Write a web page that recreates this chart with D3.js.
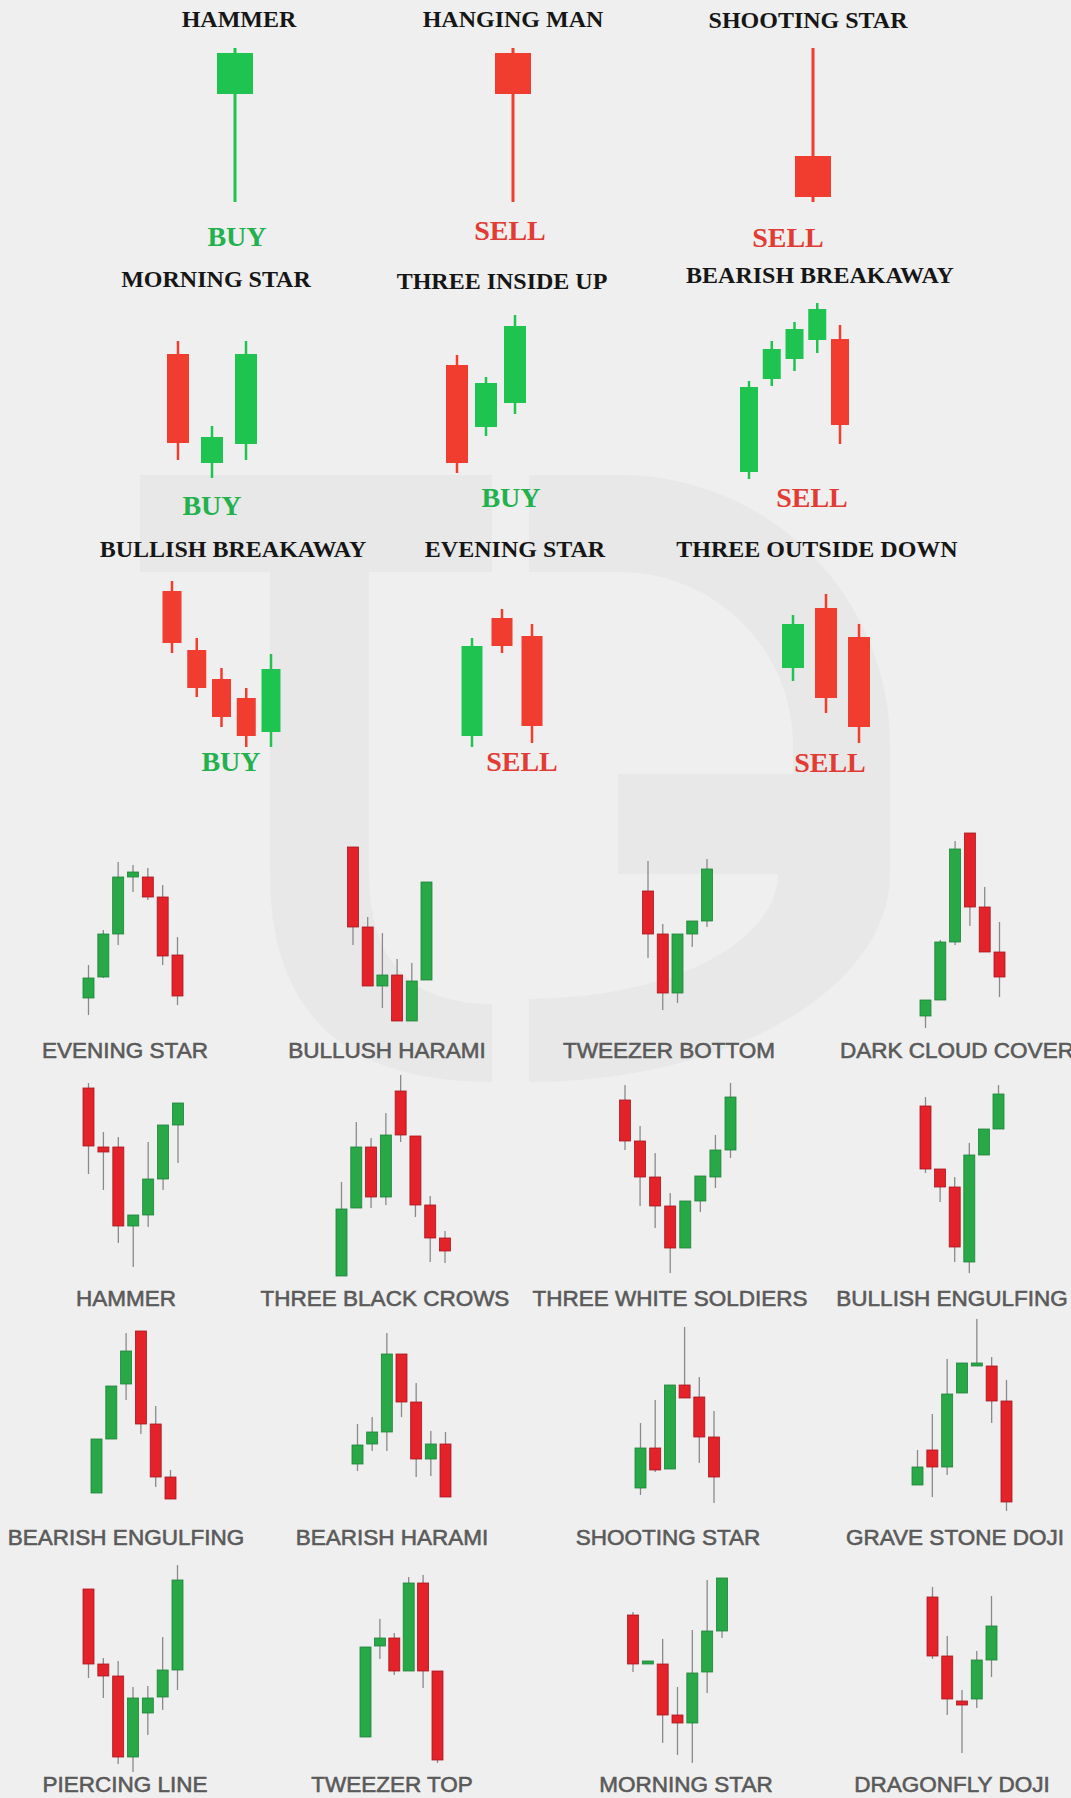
<!DOCTYPE html>
<html>
<head>
<meta charset="utf-8">
<script src="https://cdn.jsdelivr.net/npm/d3@7"></script>
<style>
  html, body { margin: 0; padding: 0; background: #efefef; }
  svg { display: block; }
</style>
</head>
<body>
<div id="chart"></div>
<script>
// every candle is [open, high, low, close]

// ---- big patterns with a signal ----
var signalRow1Names = ["HAMMER", "HANGING MAN", "SHOOTING STAR"];
var signalRow1Signals = ["BUY", "SELL", "SELL"];
var signalRow1Candles = [
  [[116, 162, 8, 157]],
  [[157, 162, 8, 116]],
  [[54, 162, 8, 13]]
];

var signalRow2Names = ["MORNING STAR", "THREE INSIDE UP", "BEARISH BREAKAWAY"];
var signalRow2Signals = ["BUY", "BUY", "SELL"];
var signalRow2Candles = [
  [[136, 149, 30, 47], [27, 64, 12, 53], [46, 149, 30, 136]],
  [[125, 135, 17, 27], [63, 113, 54, 107], [87, 175, 76, 164]],
  [[18, 109, 11, 103], [111, 149, 104, 141], [131, 168, 119, 161], [150, 187, 137, 181], [151, 165, 46, 65]]
];

var signalRow3Names = ["BULLISH BREAKAWAY", "EVENING STAR", "THREE OUTSIDE DOWN"];
var signalRow3Signals = ["BUY", "SELL", "SELL"];
var signalRow3Candles = [
  [[169, 179, 107, 117], [110, 122, 63, 72], [81, 92, 33, 43], [62, 72, 13, 24], [28, 106, 13, 91]],
  [[24, 122, 13, 114], [142, 151, 107, 114], [124, 136, 17, 34]],
  [[92, 145, 79, 136], [152, 166, 47, 62], [123, 136, 17, 33]]
];

// ---- small pattern grid ----
var gridRow1Names = ["EVENING STAR", "BULLUSH HARAMI", "TWEEZER BOTTOM", "DARK CLOUD COVER"];
var gridRow1Candles = [
  [[32, 65, 15, 52], [53, 100, 52, 96], [96, 168, 85, 153], [153, 165, 138, 158], [153, 162, 130, 133], [133, 145, 65, 74], [75, 93, 25, 34]],
  [[183, 183, 85, 103], [103, 113, 44, 44], [44, 97, 22, 55], [55, 71, 9, 9], [9, 67, 9, 49], [50, 148, 50, 148]],
  [[139, 169, 72, 96], [96, 106, 20, 37], [37, 96, 27, 96], [96, 109, 83, 109], [109, 171, 103, 161]],
  [[14, 30, 2, 30], [30, 90, 30, 88], [88, 189, 85, 181], [197, 197, 104, 123], [123, 143, 78, 78], [78, 108, 33, 53]]
];

var gridRow2Names = ["HAMMER", "THREE BLACK CROWS", "THREE WHITE SOLDIERS", "BULLISH ENGULFING"];
var gridRow2Candles = [
  [[192, 197, 106, 134], [133, 148, 90, 128], [133, 143, 37, 54], [54, 65, 13, 65], [65, 138, 53, 101], [101, 155, 90, 155], [155, 177, 117, 177]],
  [[4, 98, 4, 71], [72, 158, 72, 133], [133, 142, 72, 83], [83, 167, 75, 145], [189, 205, 138, 145], [144, 144, 63, 75], [75, 84, 18, 42], [42, 49, 17, 29]],
  [[180, 195, 130, 139], [139, 154, 74, 103], [103, 127, 52, 74], [74, 87, 7, 32], [32, 79, 32, 79], [79, 104, 68, 104], [103, 145, 92, 130], [130, 197, 122, 183]],
  [[174, 183, 107, 111], [111, 111, 78, 93], [93, 103, 18, 33], [18, 137, 7, 125], [125, 151, 125, 151], [151, 195, 151, 186]]
];

var gridRow3Names = ["BEARISH ENGULFING", "BEARISH HARAMI", "SHOOTING STAR", "GRAVE STONE DOJI"];
var gridRow3Candles = [
  [[22, 76, 22, 76], [76, 129, 76, 129], [131, 182, 115, 164], [184, 184, 81, 91], [91, 109, 28, 38], [38, 45, 16, 16]],
  [[51, 91, 44, 70], [71, 98, 64, 83], [83, 182, 64, 161], [161, 161, 98, 113], [113, 132, 38, 56], [56, 84, 39, 71], [71, 83, 18, 18]],
  [[27, 92, 20, 67], [67, 115, 43, 45], [46, 130, 46, 130], [130, 188, 117, 117], [118, 138, 52, 78], [78, 104, 12, 38]],
  [[30, 65, 30, 48], [65, 101, 18, 48], [48, 156, 40, 121], [122, 152, 122, 152], [149, 196, 149, 152], [149, 158, 92, 114], [114, 135, 4, 13]]
];

var gridRow4Names = ["PIERCING LINE", "TWEEZER TOP", "MORNING STAR", "DRAGONFLY DOJI"];
var gridRow4Candles = [
  [[186, 186, 97, 111], [111, 117, 77, 99], [99, 114, 11, 18], [18, 88, 3, 77], [62, 89, 40, 77], [78, 138, 65, 105], [105, 210, 85, 195]],
  [[38, 128, 38, 128], [129, 156, 116, 137], [137, 142, 100, 104], [104, 198, 104, 192], [192, 200, 87, 104], [104, 104, 12, 15]],
  [[160, 163, 103, 111], [111, 114, 111, 114], [111, 136, 32, 60], [60, 88, 20, 52], [52, 145, 12, 102], [103, 195, 82, 144], [144, 197, 137, 197]],
  [[178, 188, 116, 119], [119, 139, 60, 76], [74, 85, 22, 70], [76, 124, 67, 115], [115, 179, 98, 149]]
];

var W = 1071, H = 1798;

var svg = d3.select("#chart")
    .append("svg")
    .attr("width", W)
    .attr("height", H);

svg.append("rect")
    .attr("width", W)
    .attr("height", H)
    .attr("fill", "#efefef");

// faint "TG" watermark behind everything
var mark = svg.append("g").attr("fill", "#e8e8e8");
mark.append("rect").attr("x", 140).attr("y", 475).attr("width", 352).attr("height", 97);
mark.append("path")
    .attr("d", "M270,572 H369 V874 Q369,1004 492,1004 V1082 Q270,1082 270,874 Z");
mark.append("path")
    .attr("fill-rule", "evenodd")
    .attr("d", "M529,475 H620 A270,270 0 0 1 890,745 V874 A361,208 0 0 1 529,1082 Z " +
               "M529,572 H620 A173,173 0 0 1 793,745 V774 H618 V874 H778 A249,125 0 0 1 529,999 Z");

var bigStyle = { up: "#1ec350", down: "#f03d2f", upLine: null, downLine: null, wick: null, minH: 3 };
var smallStyle = { up: "#29a848", down: "#e3222a", upLine: "#1f8238", downLine: "#a9171e", wick: "#8a8a8a", minH: 3 };

function drawCandles(g, candles, floor, span, bodyW, wickW, st) {
    var y = d3.scaleLinear().domain([0, 200]).range([floor, floor - 200]);
    var x = d3.scaleLinear().domain([0, Math.max(candles.length - 1, 1)]).range(span.length > 1 ? span : [span[0], span[0]]);

    var c = g.append("g").selectAll("g")
        .data(candles)
        .enter()
        .append("g");

    c.append("line")
        .attr("x1", function(d, i) { return x(i); })
        .attr("x2", function(d, i) { return x(i); })
        .attr("y1", function(d) { return y(d[1]); })
        .attr("y2", function(d) { return y(d[2]); })
        .attr("stroke", function(d) { return st.wick || (d[3] >= d[0] ? st.up : st.down); })
        .attr("stroke-width", wickW);

    c.append("rect")
        .attr("x", function(d, i) { return x(i) - bodyW / 2; })
        .attr("y", function(d) { return y(Math.max(d[0], d[3])); })
        .attr("width", bodyW)
        .attr("height", function(d) { return Math.max(Math.abs(y(d[0]) - y(d[3])), st.minH); })
        .attr("fill", function(d) { return d[3] >= d[0] ? st.up : st.down; })
        .attr("stroke", function(d) { return d[3] >= d[0] ? st.upLine : st.downLine; })
        .attr("stroke-width", st.upLine ? 0.8 : 0);
}

// big rows: floor, candle spans, body widths, title spots, signal spots
var signalRows = [
    { names: signalRow1Names, signals: signalRow1Signals, candles: signalRow1Candles, floor: 210,
      spans: [[235], [513], [813]], bodyW: [36, 36, 36], wickW: 3,
      titleX: [239, 513, 808], titleY: [27, 27, 28], sigX: [237, 510, 788], sigY: [246, 240, 247] },
    { names: signalRow2Names, signals: signalRow2Signals, candles: signalRow2Candles, floor: 490,
      spans: [[178, 246], [457, 515], [749, 840]], bodyW: [22, 22, 18], wickW: 2.5,
      titleX: [216, 502, 820], titleY: [287, 289, 283], sigX: [212, 511, 812], sigY: [515, 507, 507] },
    { names: signalRow3Names, signals: signalRow3Signals, candles: signalRow3Candles, floor: 760,
      spans: [[172, 271], [472, 532], [793, 859]], bodyW: [19, 21, 22], wickW: 2.5,
      titleX: [233, 515, 817], titleY: [557, 557, 557], sigX: [231, 522, 830], sigY: [771, 771, 772] }
];

signalRows.forEach(function(row) {
    var g = svg.append("g");
    row.candles.forEach(function(cs, i) {
        drawCandles(g, cs, row.floor, row.spans[i], row.bodyW[i], row.wickW, bigStyle);
    });
    g.selectAll("text.title")
        .data(row.names)
        .enter()
        .append("text")
        .attr("class", "title")
        .attr("x", function(d, i) { return row.titleX[i]; })
        .attr("y", function(d, i) { return row.titleY[i]; })
        .attr("text-anchor", "middle")
        .style("font-family", "'Liberation Serif', 'DejaVu Serif', serif")
        .style("font-weight", "bold")
        .style("font-size", "24px")
        .style("fill", "#161616")
        .text(function(d) { return d; });
    g.selectAll("text.signal")
        .data(row.signals)
        .enter()
        .append("text")
        .attr("class", "signal")
        .attr("x", function(d, i) { return row.sigX[i]; })
        .attr("y", function(d, i) { return row.sigY[i]; })
        .attr("text-anchor", "middle")
        .style("font-family", "'Liberation Serif', 'DejaVu Serif', serif")
        .style("font-weight", "bold")
        .style("font-size", "28px")
        .style("fill", function(d) { return d == "BUY" ? "#22b14c" : "#e23b33"; })
        .text(function(d) { return d; });
});

// grid rows
var gridRows = [
    { names: gridRow1Names, candles: gridRow1Candles, floor: 1030, labelY: 1058,
      spans: [[88.5, 177.5], [353, 426.5], [648, 707], [925.5, 999.5]], labelX: [125, 387, 669, 957] },
    { names: gridRow2Names, candles: gridRow2Candles, floor: 1280, labelY: 1306,
      spans: [[88.5, 178], [341.5, 445], [625, 730.5], [925.5, 998.5]], labelX: [126, 385, 670, 952] },
    { names: gridRow3Names, candles: gridRow3Candles, floor: 1515, labelY: 1545,
      spans: [[96.5, 170.5], [357.5, 445.5], [640.5, 714], [917.5, 1006.5]], labelX: [126, 392, 668, 955] },
    { names: gridRow4Names, candles: gridRow4Candles, floor: 1775, labelY: 1792,
      spans: [[88.5, 177.5], [365.5, 437.5], [633, 722], [932.5, 991.5]], labelX: [125, 392, 686, 952] }
];

gridRows.forEach(function(row) {
    var g = svg.append("g");
    row.candles.forEach(function(cs, i) {
        drawCandles(g, cs, row.floor, row.spans[i], 11, 1.3, smallStyle);
    });
    g.selectAll("text")
        .data(row.names)
        .enter()
        .append("text")
        .attr("x", function(d, i) { return row.labelX[i]; })
        .attr("y", row.labelY)
        .attr("text-anchor", "middle")
        .style("font-family", "'Liberation Sans', Arial, sans-serif")
        .style("font-size", "22.5px")
        .style("fill", "#5a5a5a")
        .style("stroke", "#5a5a5a")
        .style("stroke-width", "0.6px")
        .text(function(d) { return d; });
});
</script>
</body>
</html>
